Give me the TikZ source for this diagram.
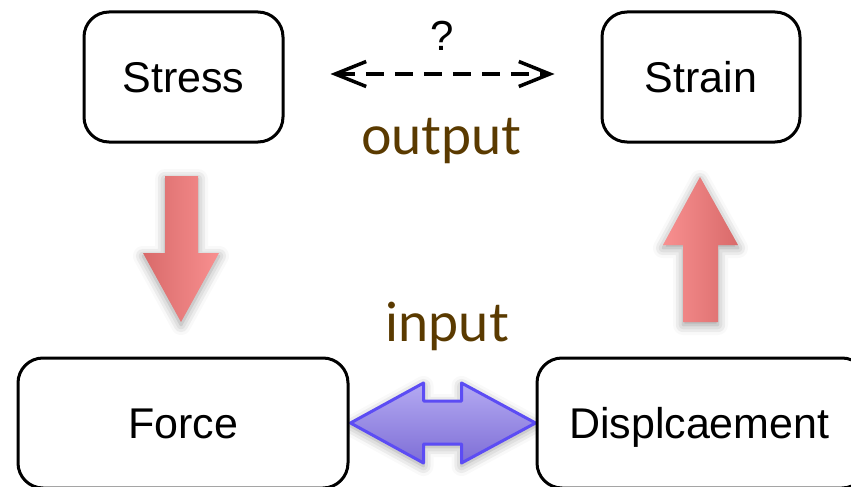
\documentclass[tikz,border=0pt]{standalone}
\usepackage{fontspec}
\setmainfont{Liberation Sans}
\newfontfamily\labelfont{Lato}
\usetikzlibrary{arrows.meta,shadows.blur,calc}
\pgfdeclarelayer{behind}
\pgfsetlayers{behind,main}
\definecolor{brownlabel}{RGB}{90,58,0}
\definecolor{reddark}{RGB}{217,106,106}
\definecolor{redlight}{RGB}{248,144,144}
\definecolor{bluetop}{RGB}{180,170,242}
\definecolor{bluebot}{RGB}{126,110,214}
\definecolor{bluestroke}{RGB}{92,76,244}
\tikzset{
  box/.style={draw=black, line width=3pt, rounded corners=25pt, fill=white,
    font=\fontsize{43}{50}\selectfont, inner sep=0pt, text height=31pt, text depth=0pt},
  lbl/.style={text=brownlabel, font=\labelfont\fontsize{54}{64}\selectfont, inner sep=0pt},
  soft/.style={blur shadow={shadow xshift=0pt, shadow yshift=-3pt, shadow blur radius=10pt, shadow opacity=40}},
  qarrow/.style={draw=black, line width=3.5pt, dash pattern=on 18pt off 11pt,
    {Straight Barb[length=31pt,width=25pt,line width=3.5pt]}-{Straight Barb[length=31pt,width=25pt,line width=3.5pt]}},
}
\begin{document}
\begin{tikzpicture}[x=1pt,y=-1pt]
\useasboundingbox (0,0) rectangle (851,487);
% boxes
\node[box, minimum width=199pt, minimum height=130pt] (stress) at (183.5,77) {Stress};
\node[box, minimum width=198pt, minimum height=130pt] (strain) at (701,77) {Strain};
\node[box, minimum width=330pt, minimum height=130pt] (force) at (183,423) {Force};
\node[box, minimum width=330pt, minimum height=130pt, text width=330pt, align=left] (disp) at (702,423) {\hspace*{32pt}Displcaement};
% dashed double arrow
\draw[qarrow, shorten <=46pt, shorten >=46pt] ([yshift=3pt]stress.east) -- ([yshift=3pt]strain.west);
\node[font=\fontsize{42}{50}\selectfont, inner sep=0pt] (q) at (442,36) {?};
% labels
\node[lbl] (out) at (441,141) {output};
\node[lbl] (inp) at (447,326) {input};
% red down arrow
\path[soft, left color=reddark, right color=redlight]
  (165,176) -- (198,176) -- (198,253) -- (219,253) -- (181,322) -- (143,253) -- (165,253) -- cycle;
% red up arrow
\path[soft, left color=redlight, right color=reddark]
  (700,177) -- (738,245) -- (718,245) -- (718,322) -- (683,322) -- (683,245) -- (663,245) -- cycle;
% blue double arrow between force and displacement (behind the boxes)
\coordinate (L) at ($(force.east)+(1,0)$);
\coordinate (R) at (disp.west);
\begin{pgfonlayer}{behind}
\draw[soft, draw=bluestroke, line width=3pt, line join=round, top color=bluetop, bottom color=bluebot]
  (L) -- ($(L)+(73,-40)$) -- ($(L)+(73,-22)$) -- ($(R)+(-74,-22)$) -- ($(R)+(-74,-40)$)
  -- (R) -- ($(R)+(-74,40)$) -- ($(R)+(-74,21)$) -- ($(L)+(73,21)$) -- ($(L)+(73,40)$) -- cycle;
\end{pgfonlayer}
\end{tikzpicture}
\end{document}
